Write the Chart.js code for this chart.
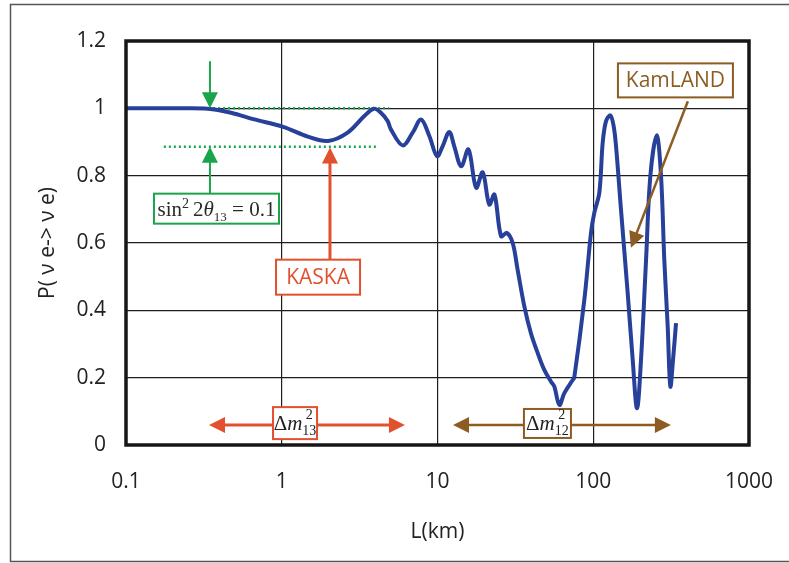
<!DOCTYPE html>
<html>
<head>
<meta charset="utf-8">
<script src="https://cdn.jsdelivr.net/npm/chart.js@4.4.1/dist/chart.umd.min.js"></script>
<style>
  html, body { margin: 0; padding: 0; background: #fff; }
  #wrap { width: 789px; height: 563px; position: relative; }
</style>
</head>
<body>
<div id="wrap"><canvas id="chart-prob"></canvas></div>
<script>
//
// Survival probability vs baseline
//

// Data
var distKm = [0.1, 0.15, 0.2, 0.335, 0.472, 0.667, 1.02, 1.47, 1.98, 2.65, 3.39, 3.9, 4.33, 4.79, 5.02, 5.98, 6.93, 7.84, 8.86, 9.93, 10.8, 11.9, 12.8, 14.2, 15.8, 17.7, 19.5, 21.5, 23.2, 25.6, 27.9, 30.4, 32.7, 36.1, 39.8, 44, 48.5, 53.6, 56.2, 60.6, 65.2, 73.8, 75.5, 87.7, 96.7, 101.6, 109.4, 115, 120.8, 128.8, 135.2, 140, 150.7, 166.4, 179.2, 191, 202.6, 218.3, 232.7, 255.5, 272.3, 285.9, 300.6, 312.6, 325.2, 340];
var survProb = [1.0, 1.0, 1.0, 0.999, 0.987, 0.967, 0.945, 0.916, 0.903, 0.928, 0.977, 0.999, 0.987, 0.962, 0.9375, 0.89, 0.928, 0.967, 0.918, 0.858, 0.888, 0.93, 0.888, 0.828, 0.878, 0.764, 0.81, 0.714, 0.744, 0.62, 0.63, 0.6, 0.52, 0.412, 0.332, 0.273, 0.223, 0.188, 0.174, 0.119, 0.154, 0.193, 0.2, 0.432, 0.63, 0.69, 0.749, 0.898, 0.962, 0.979, 0.947, 0.888, 0.699, 0.451, 0.253, 0.109, 0.253, 0.55, 0.8, 0.92, 0.8, 0.55, 0.352, 0.174, 0.253, 0.362];

// Dotted reference levels (KASKA sensitivity band)
var upperLevelX = [0.216, 4.89];
var upperLevelY = [1.0, 1.0];
var lowerLevelX = [0.175, 4.15];
var lowerLevelY = [0.886, 0.886];

// Axis ticks
var xTickValues = [0.1, 1, 10, 100, 1000];
var yTickStep = 0.2;

var blue = "#27409a";
var green = "#1aa54c";
var red = "#e2502f";
var brown = "#8c5c22";
var tickFont = { family: "'Open Sans', sans-serif", size: 21 };

function toPoints(xs, ys) {
  return xs.map(function (x, i) { return { x: x, y: ys[i] }; });
}

// Helpers for the annotations
function arrowHead(ctx, x0, y0, x1, y1, len, half, color) {
  var a = Math.atan2(y1 - y0, x1 - x0);
  ctx.fillStyle = color;
  ctx.beginPath();
  ctx.moveTo(x1, y1);
  ctx.lineTo(x1 - len * Math.cos(a) + half * Math.sin(a), y1 - len * Math.sin(a) - half * Math.cos(a));
  ctx.lineTo(x1 - len * Math.cos(a) - half * Math.sin(a), y1 - len * Math.sin(a) + half * Math.cos(a));
  ctx.closePath();
  ctx.fill();
}

function arrow(ctx, x0, y0, x1, y1, color, width, both) {
  var a = Math.atan2(y1 - y0, x1 - x0);
  var len = 16;
  ctx.strokeStyle = color;
  ctx.lineWidth = width;
  ctx.beginPath();
  ctx.moveTo(both ? x0 + (len - 2) * Math.cos(a) : x0, both ? y0 + (len - 2) * Math.sin(a) : y0);
  ctx.lineTo(x1 - (len - 2) * Math.cos(a), y1 - (len - 2) * Math.sin(a));
  ctx.stroke();
  arrowHead(ctx, x0, y0, x1, y1, len, 8, color);
  if (both) arrowHead(ctx, x1, y1, x0, y0, len, 8, color);
}

function box(ctx, cx, cy, w, h, color) {
  ctx.fillStyle = "#fff";
  ctx.fillRect(cx - w / 2, cy - h / 2, w, h);
  ctx.strokeStyle = color;
  ctx.lineWidth = 2;
  ctx.strokeRect(cx - w / 2, cy - h / 2, w, h);
}

// parts: [text, font, dy, dxAfter]
function richText(ctx, parts, cx, cy, color) {
  var total = 0;
  parts.forEach(function (p) { ctx.font = p[1]; total += ctx.measureText(p[0]).width + (p[3] || 0); });
  var x = cx - total / 2;
  ctx.fillStyle = color;
  ctx.textBaseline = "alphabetic";
  ctx.textAlign = "left";
  parts.forEach(function (p) {
    ctx.font = p[1];
    ctx.fillText(p[0], x, cy + p[2]);
    x += ctx.measureText(p[0]).width + (p[3] || 0);
  });
}

function deltaM(ctx, cx, cy, sub) {
  var serif = "'Liberation Serif', serif";
  ctx.font = "21px " + serif;
  var w1 = ctx.measureText("\u0394").width;
  ctx.font = "italic 21px " + serif;
  var w2 = ctx.measureText("m").width;
  ctx.font = "14px " + serif;
  var w3 = ctx.measureText(sub).width;
  var x = cx - (w1 + w2 + w3) / 2;
  var base = cy + 7;
  ctx.fillStyle = "#222";
  ctx.textAlign = "left";
  ctx.textBaseline = "alphabetic";
  ctx.font = "21px " + serif;
  ctx.fillText("\u0394", x, base);
  ctx.font = "italic 21px " + serif;
  ctx.fillText("m", x + w1, base);
  ctx.font = "14px " + serif;
  ctx.fillText("2", x + w1 + w2 + (w3 - ctx.measureText("2").width) / 2, base - 11);
  ctx.fillText(sub, x + w1 + w2, base + 5);
}

var annotations = {
  id: "annotations",
  afterDatasetsDraw: function (chart) {
    var ctx = chart.ctx;
    var xs = chart.scales.x, ys = chart.scales.y;
    var area = chart.chartArea;
    function px(v) { return xs.getPixelForValue(v); }
    function py(v) { return ys.getPixelForValue(v); }
    ctx.save();

    // plot frame
    ctx.strokeStyle = "#161616";
    ctx.lineWidth = 3.5;
    ctx.strokeRect(area.left, area.top, area.right - area.left, area.bottom - area.top);

    // outer frame
    ctx.strokeStyle = "#555";
    ctx.lineWidth = 1.5;
    ctx.beginPath();
    ctx.moveTo(800, 4.5);
    ctx.lineTo(10.5, 4.5);
    ctx.lineTo(10.5, 561.5);
    ctx.lineTo(800, 561.5);
    ctx.stroke();

    // green arrows onto the dotted levels
    arrow(ctx, px(0.346), py(1.14), px(0.346), py(upperLevelY[0]), green, 2, false);
    arrow(ctx, px(0.346), py(0.747), px(0.346), py(lowerLevelY[0]), green, 2, false);
    box(ctx, px(0.381), py(0.702), 125, 30, green);
    var serif = "'Liberation Serif', serif";
    richText(ctx, [
      ["sin", "21px " + serif, 0, 0],
      ["2", "14px " + serif, -8, 4],
      ["2", "21px " + serif, 0, 0],
      ["\u03b8", "italic 21px " + serif, 0, 0],
      ["13", "13px " + serif, 5, 0],
      [" = 0.1", "21px " + serif, 0, 0]
    ], px(0.381), py(0.702) + 7, "#2a2a2a");

    // KASKA
    arrow(ctx, px(2.04), py(0.551), px(2.04), py(0.884), red, 3, false);
    box(ctx, px(1.71), py(0.4985), 84, 35, red);
    ctx.font = "21px 'Open Sans', sans-serif";
    ctx.fillStyle = red;
    ctx.textAlign = "center";
    ctx.textBaseline = "middle";
    ctx.fillText("KASKA", px(1.71), py(0.4985) + 1);

    // KamLAND
    arrow(ctx, px(405), py(1.021), px(174.6), py(0.586), brown, 2.5, false);
    box(ctx, px(337), py(1.083), 115, 34, brown);
    ctx.font = "21px 'Open Sans', sans-serif";
    ctx.fillStyle = brown;
    ctx.textAlign = "center";
    ctx.textBaseline = "middle";
    ctx.fillText("KamLAND", px(337), py(1.083) + 1);

    // delta m^2 ranges
    arrow(ctx, px(0.341), py(0.0595), px(6.18), py(0.0595), red, 3, true);
    box(ctx, px(1.217), py(0.065), 44, 32, red);
    deltaM(ctx, px(1.217), py(0.065), "13");

    arrow(ctx, px(12.58), py(0.0595), px(315), py(0.0595), brown, 2.5, true);
    box(ctx, px(50.8), py(0.064), 47, 29, brown);
    deltaM(ctx, px(50.8), py(0.064), "12");

    ctx.restore();
  }
};

var ProbChart = (function () {
  var $chart = document.getElementById("chart-prob");

  function initChart($chart) {
    var chart = new Chart($chart, {
      type: "line",
      data: {
        datasets: [
          {
            label: "P(\u03bde -> \u03bde)",
            data: toPoints(distKm, survProb),
            borderColor: blue,
            borderWidth: 4,
            pointRadius: 0,
            tension: 0.35,
            fill: false
          },
          {
            label: "upper level",
            data: toPoints(upperLevelX, upperLevelY),
            borderColor: green,
            borderWidth: 2.5,
            borderDash: [2, 3],
            pointRadius: 0
          },
          {
            label: "lower level",
            data: toPoints(lowerLevelX, lowerLevelY),
            borderColor: green,
            borderWidth: 2.5,
            borderDash: [2, 3],
            pointRadius: 0
          }
        ]
      },
      options: {
        responsive: false,
        animation: false,
        layout: { padding: { left: 10, right: 40, top: 41, bottom: 10 } },
        plugins: { legend: { display: false }, tooltip: { enabled: false } },
        scales: {
          x: {
            type: "logarithmic",
            min: 0.1,
            max: 1000,
            afterBuildTicks: function (scale) {
              scale.ticks = xTickValues.map(function (v) { return { value: v }; });
            },
            afterFit: function (scale) {
              scale.height = 108;
              scale.paddingLeft = 0;
              scale.paddingRight = 0;
            },
            grid: { color: "#1e1e1e", lineWidth: 1.2, drawTicks: false },
            border: { display: false },
            ticks: {
              padding: 24,
              color: "#222",
              font: tickFont,
              maxRotation: 0,
              autoSkip: false,
              callback: function (v) { return String(v); }
            },
            title: {
              display: true,
              text: "L(km)",
              color: "#222",
              font: tickFont,
              padding: { top: 0, bottom: 8 }
            }
          },
          y: {
            min: 0,
            max: 1.2,
            afterFit: function (scale) { scale.width = 116; },
            grid: { color: "#1e1e1e", lineWidth: 1.2, drawTicks: false },
            border: { display: false },
            ticks: {
              stepSize: yTickStep,
              padding: 20,
              color: "#222",
              font: tickFont,
              callback: function (v) { return String(+v.toFixed(1)); }
            },
            title: {
              display: true,
              text: "P( \u03bd e-> \u03bd e)",
              color: "#222",
              font: tickFont,
              padding: { top: 25, bottom: 0 }
            }
          }
        }
      },
      plugins: [annotations]
    });
    return chart;
  }

  if ($chart) {
    $chart.width = 789;
    $chart.height = 563;
    initChart($chart);
  }
})();
</script>
</body>
</html>
